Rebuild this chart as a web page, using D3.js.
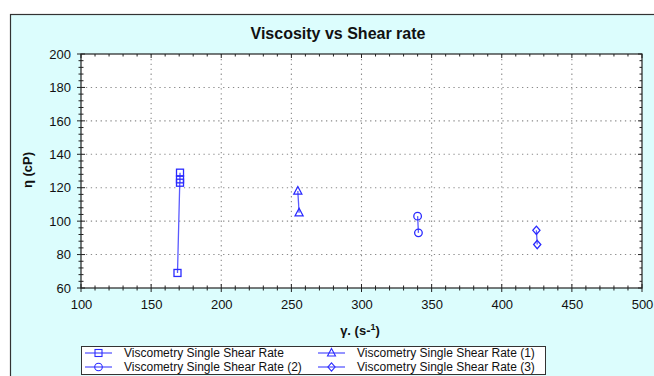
<!DOCTYPE html>
<html>
<head>
<meta charset="utf-8">
<script src="https://cdn.jsdelivr.net/npm/d3@7"></script>
<style>
  html, body { margin: 0; padding: 0; background: #fff; }
  svg { display: block; font-family: "Liberation Sans", Arial, sans-serif; }
</style>
</head>
<body>
<svg id="chart" width="654" height="376"></svg>
<script>
// Series data: shear rate (s^-1) and viscosity (cP)
const seriesNames = [
  "Viscometry Single Shear Rate",
  "Viscometry Single Shear Rate (1)",
  "Viscometry Single Shear Rate (2)",
  "Viscometry Single Shear Rate (3)"
];
const seriesSymbols = ["square", "triangle", "circle", "diamond"];
const shear0 = [168.8, 170.6, 170.6, 170.6];
const visc0  = [69, 129, 125, 123];
const shear1 = [254.6, 255.5];
const visc1  = [118, 105];
const shear2 = [340.0, 340.6];
const visc2  = [103, 93];
const shear3 = [424.7, 425.3];
const visc3  = [94.5, 86];
const xTicks = [100, 150, 200, 250, 300, 350, 400, 450, 500];
const yTicks = [60, 80, 100, 120, 140, 160, 180, 200];

const seriesX = [shear0, shear1, shear2, shear3];
const seriesY = [visc0, visc1, visc2, visc3];

const svg = d3.select("#chart");
const W = 654, H = 376;
const plot = { left: 81, right: 642, top: 54, bottom: 288 };

// outer chart panel
svg.append("rect")
  .attr("x", 10.5).attr("y", 14.5)
  .attr("width", W + 20).attr("height", H + 20)
  .attr("fill", "#dcfdfd").attr("stroke", "#333").attr("stroke-width", 1.2);

svg.append("text")
  .attr("x", 338).attr("y", 39)
  .attr("text-anchor", "middle")
  .attr("font-size", 16).attr("font-weight", "bold").attr("fill", "#111")
  .text("Viscosity vs Shear rate");

const x = d3.scaleLinear().domain([100, 500]).range([plot.left, plot.right]);
const y = d3.scaleLinear().domain([60, 200]).range([plot.bottom, plot.top]);

// plot area
svg.append("rect")
  .attr("x", plot.left).attr("y", plot.top)
  .attr("width", plot.right - plot.left).attr("height", plot.bottom - plot.top)
  .attr("fill", "#fff");

// dotted grid
const grid = svg.append("g").attr("stroke", "#8a8a8a").attr("stroke-width", 1.1)
  .attr("stroke-dasharray", "1.3,3.6");
grid.selectAll(".gx").data(xTicks.slice(1, -1)).join("line")
  .attr("x1", d => x(d)).attr("x2", d => x(d))
  .attr("y1", plot.top).attr("y2", plot.bottom);
grid.selectAll(".gy").data(yTicks.slice(1, -1)).join("line")
  .attr("x1", plot.left).attr("x2", plot.right)
  .attr("y1", d => y(d)).attr("y2", d => y(d));

// axes
const xMinor = d3.range(100, 501, 10).filter(v => v % 50 !== 0);
const yMinor = d3.range(60, 201, 4).filter(v => v % 20 !== 0);

const xAxis = svg.append("g").attr("transform", `translate(0,${plot.bottom})`)
  .call(d3.axisBottom(x).tickValues(xTicks).tickSize(0).tickPadding(12).tickFormat(d3.format("d")));
xAxis.select(".domain").remove();
xAxis.selectAll("text").attr("font-size", 13).attr("fill", "#111").attr("font-family", "Liberation Sans, Arial, sans-serif");

const yAxis = svg.append("g").attr("transform", `translate(${plot.left},0)`)
  .call(d3.axisLeft(y).tickValues(yTicks).tickSize(0).tickPadding(10).tickFormat(d3.format("d")));
yAxis.select(".domain").remove();
yAxis.selectAll("text").attr("font-size", 13).attr("fill", "#111").attr("font-family", "Liberation Sans, Arial, sans-serif");

const tk = svg.append("g").attr("stroke", "#222").attr("stroke-width", 1);
// bottom axis ticks (crossing)
tk.selectAll(".bx").data(xTicks).join("line")
  .attr("x1", d => x(d)).attr("x2", d => x(d))
  .attr("y1", plot.bottom - 4).attr("y2", plot.bottom + 4);
tk.selectAll(".bxm").data(xMinor).join("line")
  .attr("x1", d => x(d)).attr("x2", d => x(d))
  .attr("y1", plot.bottom - 2.5).attr("y2", plot.bottom + 2.5);
// top axis ticks (inward)
tk.selectAll(".tx").data(xTicks).join("line")
  .attr("x1", d => x(d)).attr("x2", d => x(d))
  .attr("y1", plot.top).attr("y2", plot.top + 4);
tk.selectAll(".txm").data(xMinor).join("line")
  .attr("x1", d => x(d)).attr("x2", d => x(d))
  .attr("y1", plot.top).attr("y2", plot.top + 2.5);
// left axis ticks (crossing)
tk.selectAll(".ly").data(yTicks).join("line")
  .attr("x1", plot.left - 4).attr("x2", plot.left + 4)
  .attr("y1", d => y(d)).attr("y2", d => y(d));
tk.selectAll(".lym").data(yMinor).join("line")
  .attr("x1", plot.left - 2.5).attr("x2", plot.left + 2.5)
  .attr("y1", d => y(d)).attr("y2", d => y(d));
// right axis ticks (inward)
tk.selectAll(".ry").data(yTicks).join("line")
  .attr("x1", plot.right - 4).attr("x2", plot.right)
  .attr("y1", d => y(d)).attr("y2", d => y(d));
tk.selectAll(".rym").data(yMinor).join("line")
  .attr("x1", plot.right - 2.5).attr("x2", plot.right)
  .attr("y1", d => y(d)).attr("y2", d => y(d));

// plot frame
svg.append("rect")
  .attr("x", plot.left).attr("y", plot.top)
  .attr("width", plot.right - plot.left).attr("height", plot.bottom - plot.top)
  .attr("fill", "none").attr("stroke", "#222").attr("stroke-width", 1.2);

// axis titles
const xt = svg.append("text")
  .attr("x", 360).attr("y", 335).attr("text-anchor", "middle")
  .attr("font-size", 13).attr("font-weight", "bold").attr("fill", "#111");
xt.append("tspan").text("γ. (s-");
xt.append("tspan").attr("dy", -5).attr("font-size", 9).text("1");
xt.append("tspan").attr("dy", 5).text(")");

svg.append("text")
  .attr("transform", "translate(32,170) rotate(-90)")
  .attr("text-anchor", "middle")
  .attr("font-size", 13).attr("font-weight", "bold").attr("fill", "#111")
  .text("η (cP)");

// markers
const lineColor = "#5a5aff";
const markColor = "#2a2aff";
function marker(g, type, cx, cy) {
  if (type === "square") {
    g.append("rect").attr("x", cx - 3.5).attr("y", cy - 3.5).attr("width", 7).attr("height", 7);
  } else if (type === "circle") {
    g.append("circle").attr("cx", cx).attr("cy", cy).attr("r", 3.8);
  } else if (type === "triangle") {
    g.append("path").attr("d", `M${cx},${cy - 4.5}L${cx + 4},${cy + 3}L${cx - 4},${cy + 3}Z`);
  } else if (type === "diamond") {
    g.append("path").attr("d", `M${cx},${cy - 4.2}L${cx + 3.6},${cy}L${cx},${cy + 4.2}L${cx - 3.6},${cy}Z`);
  }
}

const line = d3.line().x(d => x(d[0])).y(d => y(d[1]));
seriesX.forEach((xs, i) => {
  const pts = xs.map((v, j) => [v, seriesY[i][j]]);
  svg.append("path").datum(pts).attr("d", line)
    .attr("fill", "none").attr("stroke", lineColor).attr("stroke-width", 1.3);
  const g = svg.append("g").attr("fill", "none").attr("stroke", markColor).attr("stroke-width", 1.3);
  pts.forEach(p => marker(g, seriesSymbols[i], x(p[0]), y(p[1])));
});

// legend
const lg = svg.append("g");
lg.append("rect").attr("x", 81.5).attr("y", 346.5).attr("width", 464).attr("height", 28)
  .attr("fill", "#fff").attr("stroke", "#333").attr("stroke-width", 1);
const legendPos = [[85, 353], [318, 353], [85, 367], [318, 367]];
const order = [0, 1, 2, 3];
order.forEach((si, k) => {
  const [lx, ly] = legendPos[k];
  lg.append("line").attr("x1", lx).attr("x2", lx + 27).attr("y1", ly).attr("y2", ly)
    .attr("stroke", lineColor).attr("stroke-width", 1.3);
  const g = lg.append("g").attr("fill", "none").attr("stroke", markColor).attr("stroke-width", 1.1);
  marker(g, seriesSymbols[si], lx + 13.5, ly);
  lg.append("text").attr("x", lx + 39).attr("y", ly + 4.2)
    .attr("font-size", 12).attr("fill", "#111").text(seriesNames[si]);
});
</script>
</body>
</html>
